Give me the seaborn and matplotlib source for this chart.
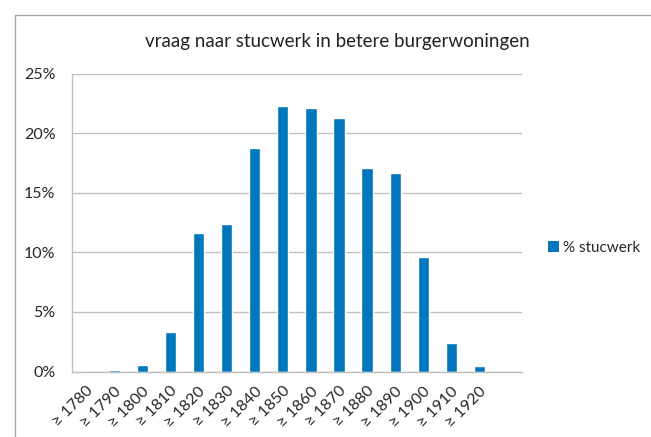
import numpy as np
import pandas as pd
import matplotlib
matplotlib.use('Agg')
import matplotlib.pyplot as plt
from matplotlib.ticker import PercentFormatter
from matplotlib.patches import Rectangle, Patch
import seaborn as sns

# Data
decades = ['1780', '1790', '1800', '1810', '1820', '1830', '1840', '1850',
           '1860', '1870', '1880', '1890', '1900', '1910', '1920']
pct_stucwerk = [0.0, 0.0015, 0.0055, 0.033, 0.1165, 0.1235, 0.1875, 0.2225,
                0.221, 0.2125, 0.171, 0.1665, 0.096, 0.024, 0.005]
tick_labels = ['\u2265 ' + d for d in decades]

df = pd.DataFrame({'decade': tick_labels, 'pct': pct_stucwerk})

sns.set_style('white')
plt.rcParams['font.family'] = ['Lato', 'DejaVu Sans']

bar_color = '#0077BD'
grid_color = '#BFBFBF'
text_color = '#262626'

fig = plt.figure(figsize=(6.51, 4.37), dpi=100)
ax = fig.add_axes([72 / 651, 1 - 371.5 / 437, (521.7 - 72) / 651, (371.5 - 73.7) / 437])

sns.barplot(data=df, x='decade', y='pct', color=bar_color, width=0.4,
            saturation=1, ax=ax)

ax.set_xlim(-0.5, 15.5)
ax.set_ylim(0, 0.25)
ax.set_yticks(np.arange(0, 0.2501, 0.05))
ax.yaxis.set_major_formatter(PercentFormatter(1, decimals=0))
ax.yaxis.grid(True, color=grid_color, linewidth=1)
ax.set_axisbelow(True)
ax.set_xlabel('')
ax.set_ylabel('')

# category labels at centres, tick marks between categories
ax.set_xticks(range(len(tick_labels)))
ax.set_xticklabels(tick_labels, rotation=45, ha='right', va='top',
                   rotation_mode='anchor', fontsize=11.5, color=text_color)
ax.set_xticks(np.arange(-0.5, 16, 1), minor=True)
ax.tick_params(axis='x', which='major', length=0, pad=9)
ax.tick_params(axis='x', which='minor', length=4, color=grid_color, width=1)
ax.tick_params(axis='y', length=5, color=grid_color, width=1, labelsize=11.5,
               labelcolor=text_color, pad=7)

for side in ['top', 'right']:
    ax.spines[side].set_visible(False)
for side in ['left', 'bottom']:
    ax.spines[side].set_color(grid_color)
    ax.spines[side].set_linewidth(1)

fig.text(337 / 651, 1 - 42 / 437, 'vraag naar stucwerk in betere burgerwoningen',
         ha='center', va='center', fontsize=13.5, color='#222222')

fig.legend(handles=[Patch(facecolor=bar_color, edgecolor='none', label='% stucwerk')],
           loc='center left', bbox_to_anchor=(548 / 651, 1 - 248 / 437),
           frameon=False, fontsize=11, handlelength=0.7, handleheight=0.7,
           handletextpad=0.3, borderpad=0, borderaxespad=0, labelcolor=text_color)

# outer chart frame
fig.patches.append(Rectangle((15 / 651, -0.05), 1.0, 1 - 14.5 / 437 + 0.05,
                             transform=fig.transFigure, fill=False,
                             edgecolor='#A6A6A6', linewidth=1))

fig.savefig('out.png', dpi=100)
